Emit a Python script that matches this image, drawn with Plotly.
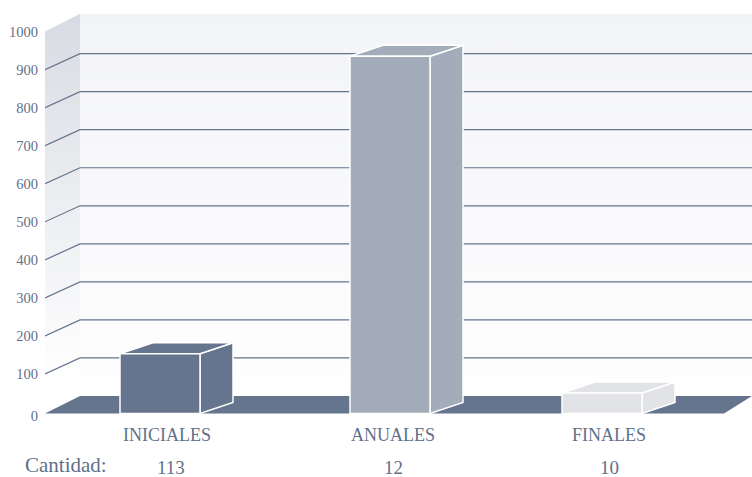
import plotly.graph_objects as go

categories = ['INICIALES', 'ANUALES', 'FINALES']
values = [153, 935, 50]
cantidad = ['113', '12', '10']
y_ticks = [0, 100, 200, 300, 400, 500, 600, 700, 800, 900, 1000]

# layout of the fake 3d box (x axis is in pixels, y axis in chart units)
PX = 0.3804
bar_x = [160, 390, 602]
label_x = [167, 393, 609]
qty_x = [171, 393, 609]
bar_w = 80
bar_colors = ['#64758d', '#a3adba', '#e1e3e7']
bar_dx, bar_dv = 33, 11 / PX
left, back, right = 45, 80, 752
wall_dv = 16 / PX
wall_top = 1000 + wall_dv + 5
floor_v = -4  # floor sits a little under the 0 line in the original
zero_label_v = -10  # and the 0 label a little under the floor
text_color = '#5f708a'
line_color = '#64758d'
font = 'Liberation Serif'

fig = go.Figure()


def poly(xs, ys, color=None, gradient=None, line=None, z=1):
    fig.add_trace(go.Scatter(
        x=xs, y=ys, mode='lines', fill='toself',
        fillcolor=color, fillgradient=gradient,
        line=dict(color=line or 'rgba(0,0,0,0)', width=1.5 if line else 0),
        hoverinfo='skip', zorder=z, cliponaxis=False,
    ))


# back wall and side wall
poly([back, right, right, back], [wall_dv, wall_dv, wall_top, wall_top],
     color='#f4f5f8',
     gradient=dict(type='vertical', colorscale=[[0, '#ffffff'], [0.1, '#fdfdfe'], [1, '#f3f4f7']]))
poly([left, back, back, left], [0, wall_dv, wall_top, 1000],
     color='#dadde3',
     gradient=dict(type='vertical', colorscale=[[0, '#ffffff'], [0.08, '#ffffff'], [1, '#d8dbe2']]))

# floor
poly([left, back, right, 724], [floor_v, wall_dv, wall_dv, floor_v], color=bar_colors[0])

# grid lines, running from the side wall to the back wall
gx, gy = [], []
for t in y_ticks[1:-1]:
    gx += [left, back, right, None]
    gy += [t, t + wall_dv, t + wall_dv, None]
fig.add_trace(go.Scatter(x=gx, y=gy, mode='lines', line=dict(color=line_color, width=1.2),
                         hoverinfo='skip', zorder=2))

# bars: front face is a real bar, top and side are drawn from the same values
for cx, v, c in zip(bar_x, values, bar_colors):
    fig.add_trace(go.Bar(x=[cx], y=[v - floor_v], base=floor_v, width=bar_w,
                         marker=dict(color=c, line=dict(color='white', width=1.5)),
                         hoverinfo='skip', zorder=4, cliponaxis=False))
    l, r = cx - bar_w / 2, cx + bar_w / 2
    poly([r, r + bar_dx, r + bar_dx, r, r], [floor_v, floor_v + bar_dv, v + bar_dv, v, floor_v],
         color=c, line='white', z=3)
    poly([l, l + bar_dx, r + bar_dx, r, l], [v, v + bar_dv, v + bar_dv, v, v], color=c, line='white', z=3)

# cantidad row under the axis
fig.add_annotation(xref='x', x=65.5, yref='paper', y=-0.115, yanchor='middle', text='Cantidad:', showarrow=False,
                   font=dict(size=21, color=text_color, family=font))
for qx, q in zip(qty_x, cantidad):
    fig.add_annotation(xref='x', x=qx, yref='paper', y=-0.122, yanchor='middle', text=q, showarrow=False,
                       font=dict(size=19, color=text_color, family=font))

fig.update_layout(
    width=752, height=477,
    margin=dict(l=45, r=0, t=0, b=60),
    paper_bgcolor='white', plot_bgcolor='white',
    showlegend=False,
    font=dict(family=font, color=text_color),
    xaxis=dict(range=[left, right], tickvals=label_x, ticktext=categories, showgrid=False,
               zeroline=False, showline=False, ticks='outside', ticklen=1, tickcolor='rgba(0,0,0,0)',
               tickfont=dict(size=18, color=text_color, family=font)),
    yaxis=dict(range=[-5 / PX, 412 / PX], tickvals=[zero_label_v] + y_ticks[1:], ticktext=[str(t) for t in y_ticks],
               showgrid=False, zeroline=False, showline=False,
               ticks='outside', ticklen=3, tickcolor='rgba(0,0,0,0)',
               tickfont=dict(size=14.5, color=text_color, family=font)),
)

# the page's default body margin would push the chart 8px off
fig.write_html('out.html', config=dict(displayModeBar=False), post_script="document.body.style.margin='0';")
